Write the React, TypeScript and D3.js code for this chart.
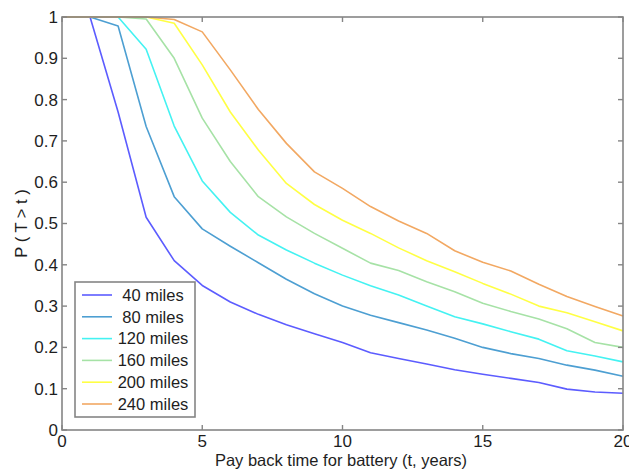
import * as d3 from "d3";

const years = d3.range(0, 21);
const seriesNames = ["40 miles", "80 miles", "120 miles", "160 miles", "200 miles", "240 miles"];
const seriesColors = ["#5c5cff", "#4d9fd2", "#44f2f2", "#a6e2a6", "#ffff44", "#f2a862"];

const miles40 = [1, 1, 0.77, 0.515, 0.41, 0.35, 0.31, 0.28, 0.255, 0.233, 0.212, 0.187, 0.173, 0.16, 0.146, 0.135, 0.125, 0.115, 0.099, 0.092, 0.089];
const miles80 = [1, 1, 0.978, 0.735, 0.565, 0.487, 0.445, 0.405, 0.365, 0.33, 0.3, 0.278, 0.26, 0.242, 0.222, 0.2, 0.185, 0.173, 0.157, 0.145, 0.13];
const miles120 = [1, 1, 1, 0.922, 0.736, 0.603, 0.527, 0.472, 0.436, 0.404, 0.375, 0.349, 0.327, 0.3, 0.274, 0.257, 0.238, 0.22, 0.192, 0.179, 0.165];
const miles160 = [1, 1, 1, 0.995, 0.9, 0.755, 0.65, 0.565, 0.516, 0.476, 0.44, 0.404, 0.386, 0.359, 0.335, 0.307, 0.287, 0.269, 0.245, 0.212, 0.2];
const miles200 = [1, 1, 1, 1, 0.985, 0.884, 0.77, 0.678, 0.597, 0.546, 0.508, 0.476, 0.441, 0.41, 0.383, 0.355, 0.329, 0.3, 0.284, 0.262, 0.24];
const miles240 = [1, 1, 1, 1, 0.994, 0.964, 0.872, 0.776, 0.694, 0.625, 0.585, 0.541, 0.506, 0.476, 0.434, 0.406, 0.385, 0.353, 0.323, 0.299, 0.276];

const allSeries = [miles40, miles80, miles120, miles160, miles200, miles240];
const xTicks = [0, 5, 10, 15, 20];
const yTicks = [0, 0.1, 0.2, 0.3, 0.4, 0.5, 0.6, 0.7, 0.8, 0.9, 1];

export default function App() {
  const width = 629;
  const height = 472;
  const left = 62, right = 623, top = 17, bottom = 430;

  const x = d3.scaleLinear().domain([0, 20]).range([left, right]);
  const y = d3.scaleLinear().domain([0, 1]).range([bottom, top]);

  const line = d3
    .line<number>()
    .x((_, i) => x(years[i]))
    .y((d) => y(d));

  const axisColor = "#858585";
  const textColor = "#1e1e1e";
  const font = "'Liberation Sans', Arial, sans-serif";
  const tick = 5;

  // legend box
  const lg = { x: 75, y: 282, w: 120, h: 135 };
  const rowY = (i: number) => 295 + i * 21.8;

  return (
    <svg
      width={width}
      height={height}
      style={{ position: "absolute", left: 0, top: 0, background: "#fff" }}
      fontFamily={font}
    >
      {/* series */}
      {allSeries.map((s, i) => (
        <path key={i} d={line(s) || ""} fill="none" stroke={seriesColors[i]} strokeWidth={1.6} strokeLinejoin="round" />
      ))}

      {/* axes box */}
      <rect x={left} y={top} width={right - left} height={bottom - top} fill="none" stroke={axisColor} strokeWidth={1.6} />

      {xTicks.map((t) => (
        <g key={"x" + t}>
          <line x1={x(t)} x2={x(t)} y1={bottom} y2={bottom - tick} stroke={axisColor} strokeWidth={1.4} />
          <line x1={x(t)} x2={x(t)} y1={top} y2={top + tick} stroke={axisColor} strokeWidth={1.4} />
          <text x={x(t)} y={bottom + 17} textAnchor="middle" fontSize={17} fill={textColor}>
            {t}
          </text>
        </g>
      ))}

      {yTicks.map((t) => (
        <g key={"y" + t}>
          <line x1={left} x2={left + tick} y1={y(t)} y2={y(t)} stroke={axisColor} strokeWidth={1.4} />
          <line x1={right} x2={right - tick} y1={y(t)} y2={y(t)} stroke={axisColor} strokeWidth={1.4} />
          <text x={58} y={y(t)} dy="0.35em" textAnchor="end" fontSize={17} fill={textColor}>
            {t}
          </text>
        </g>
      ))}

      {/* axis labels */}
      <text x={341} y={466} textAnchor="middle" fontSize={16.5} fill={textColor}>
        Pay back time for battery (t, years)
      </text>
      <text transform={`translate(27, ${y(0.5)}) rotate(-90)`} textAnchor="middle" fontSize={16.5} fill={textColor}>
        P ( T &gt; t )
      </text>

      {/* legend */}
      <rect x={lg.x} y={lg.y} width={lg.w} height={lg.h} fill="#fff" stroke={axisColor} strokeWidth={1.6} />
      {seriesNames.map((name, i) => (
        <g key={name}>
          <line x1={82} x2={112} y1={rowY(i)} y2={rowY(i)} stroke={seriesColors[i]} strokeWidth={1.6} />
          <text x={153} y={rowY(i)} dy="0.35em" textAnchor="middle" fontSize={16.5} fill={textColor}>
            {name}
          </text>
        </g>
      ))}
    </svg>
  );
}
